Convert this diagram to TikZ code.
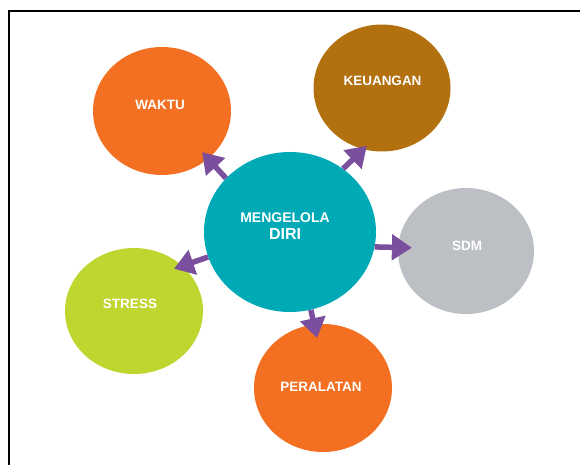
\documentclass[tikz,border=0pt]{standalone}
\usepackage{fontspec}
\setmainfont{Liberation Sans}
\usetikzlibrary{shapes.geometric,arrows.meta}
\definecolor{jingga}{HTML}{F37022}
\definecolor{coklat}{HTML}{B2700E}
\definecolor{tosca}{HTML}{00A9B6}
\definecolor{abu}{HTML}{BCC0C4}
\definecolor{hijau}{HTML}{BED62F}
\definecolor{ungu}{HTML}{7A4F9E}
\begin{document}
\begin{tikzpicture}[x=1pt,y=-1pt,
	bulat/.style={ellipse,inner sep=0pt,draw=none},
	teks/.style={text=white,font=\bfseries\fontsize{13.5}{15}\selectfont,inner sep=0pt},
	panah/.style={ungu,line width=5.5pt,-{Triangle[length=20pt,width=25pt]}}]
	\useasboundingbox (0,0) rectangle (580,465);
	\draw [black,line width=1.6pt] (9,465) -- (9,11) -- (580,11);
	% lingkaran
	\node [bulat,fill=tosca,minimum width=172pt,minimum height=160pt] (diri) at (290,232) {};
	\node [bulat,fill=jingga,minimum width=138pt,minimum height=128pt] (waktu) at (162,111) {};
	\node [bulat,fill=coklat,minimum width=137pt,minimum height=127pt] (keuangan) at (382,88) {};
	\node [bulat,fill=abu,minimum width=136pt,minimum height=126pt] (sdm) at (466,251) {};
	\node [bulat,fill=hijau,minimum width=138pt,minimum height=126pt] (stress) at (134,311) {};
	\node [bulat,fill=jingga,minimum width=138pt,minimum height=128pt] (peralatan) at (323,388) {};
	% tulisan
	\node [teks,font=\bfseries\fontsize{14}{16}\selectfont] (t1) at (285,218) {MENGELOLA};
	\node [teks,font=\bfseries\fontsize{16}{18}\selectfont] (t2) at (285,234) {DIRI};
	\node [teks] (t3) at (160,104.5) {WAKTU};
	\node [teks] (t4) at (382.5,81) {KEUANGAN};
	\node [teks] (t5) at (467,246) {SDM};
	\node [teks] (t6) at (130,304) {STRESS};
	\node [teks] (t7) at (321,386.5) {PERALATAN};
	% panah
	\draw [panah,shorten >=-9pt] (diri.140) -- (waktu.314);
	\draw [panah,shorten >=-5pt] (diri.50) -- (keuangan.253);
	\draw [panah,shorten >=-14pt] (diri.-10) -- (sdm.177);
	\draw [panah,shorten >=-9pt] (diri.197.6) -- (stress.43);
	\draw [panah,shorten >=-14pt] (diri.-75.6) -- (peralatan.98);
\end{tikzpicture}
\end{document}
